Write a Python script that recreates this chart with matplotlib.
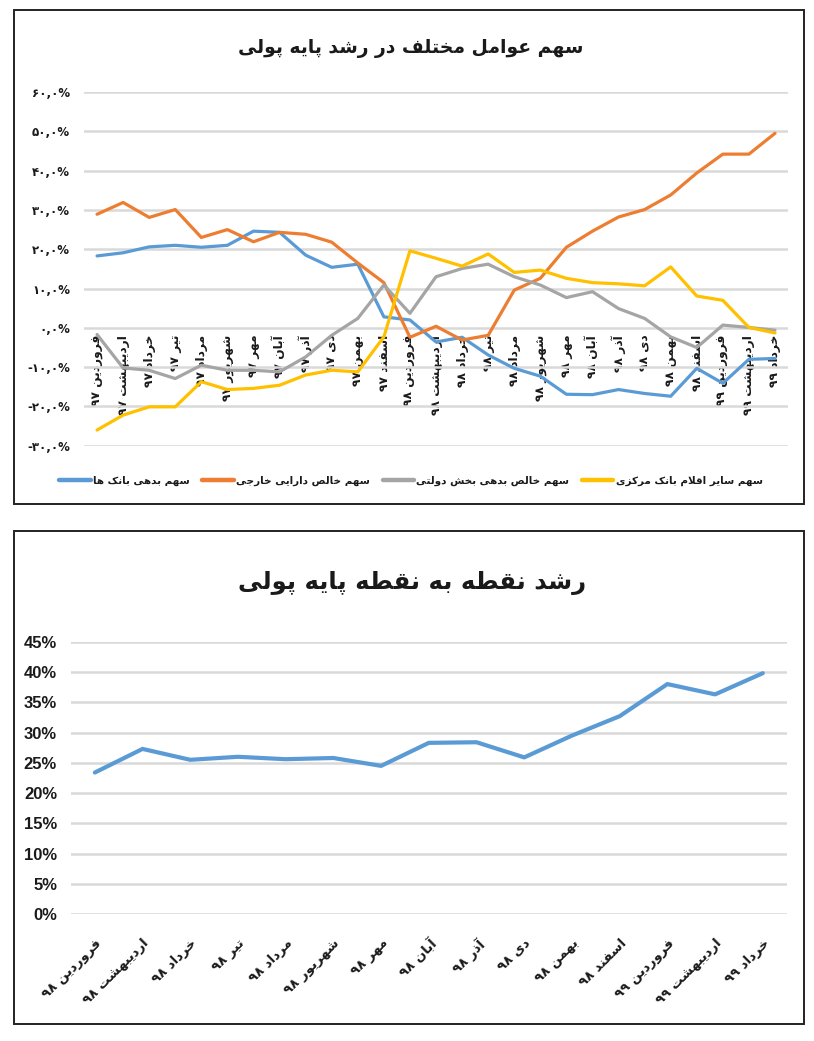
import re
import matplotlib
matplotlib.use("Agg")
import matplotlib.pyplot as plt
from matplotlib.patches import Rectangle

# ---------------- data ----------------
months = ["فروردین", "اردیبهشت", "خرداد", "تیر", "مرداد", "شهریور",
          "مهر", "آبان", "آذر", "دی", "بهمن", "اسفند"]
top_categories = [m + " ۹۷" for m in months] + [m + " ۹۸" for m in months] + \
                 [m + " ۹۹" for m in months[:3]]
bottom_categories = [m + " ۹۸" for m in months] + [m + " ۹۹" for m in months[:3]]

top_title = "سهم عوامل مختلف در رشد پایه پولی"
bottom_title = "رشد نقطه به نقطه پایه پولی"

series_names = ["سهم بدهی بانک ها", "سهم خالص دارایی خارجی",
                "سهم خالص بدهی بخش دولتی", "سهم سایر اقلام بانک مرکزی"]
banks_debt = [18.3, 19.1, 20.6, 21.0, 20.5, 21.0, 24.6, 24.3, 18.5, 15.4, 16.2, 2.8, 2.0,
              -3.6, -2.4, -6.9, -10.3, -12.3, -16.9, -17.0, -15.7, -16.7, -17.4, -10.3,
              -14.1, -8.0, -7.8]
foreign_assets = [28.9, 31.9, 28.1, 30.1, 23.0, 25.0, 21.9, 24.3, 23.8, 21.8, 16.5, 11.5,
                  -2.4, 0.4, -3.1, -1.9, 9.6, 12.6, 20.5, 24.6, 28.2, 30.1, 33.8, 39.4,
                  44.2, 44.2, 49.5]
government_debt = [-1.7, -10.2, -10.8, -12.9, -9.5, -10.8, -10.8, -11.2, -7.4, -1.9, 2.4,
                   10.9, 3.7, 13.0, 15.1, 16.2, 13.0, 10.9, 7.7, 9.2, 4.9, 2.4, -2.3, -5.0,
                   0.7, 0.1, -0.6]
other_items = [-26.0, -22.2, -20.1, -20.1, -13.7, -15.7, -15.4, -14.6, -12.0, -10.8, -11.2,
               -2.3, 19.6, 17.7, 15.7, 18.8, 14.1, 14.7, 12.6, 11.5, 11.2, 10.7, 15.5, 8.1,
               7.0, 0.1, -1.3]
top_yticks = [-30, -20, -10, 0, 10, 20, 30, 40, 50, 60]

growth = [23.4, 27.3, 25.5, 26.0, 25.6, 25.8, 24.5, 28.3, 28.4, 25.9, 29.5, 32.7, 38.0,
          36.3, 39.8]
bottom_yticks = [0, 5, 10, 15, 20, 25, 30, 35, 40, 45]

colors = ["#5B9BD5", "#ED7D31", "#A5A5A5", "#FFC000"]

# ---------------- minimal Arabic/Persian shaping ----------------
JOIN = {}
for ch, base in [("ب", 0xFE8F), ("ت", 0xFE95), ("ث", 0xFE99), ("ج", 0xFE9D), ("ح", 0xFEA1),
                 ("خ", 0xFEA5), ("س", 0xFEB1), ("ش", 0xFEB5), ("ص", 0xFEB9), ("ض", 0xFEBD),
                 ("ط", 0xFEC1), ("ظ", 0xFEC5), ("ع", 0xFEC9), ("غ", 0xFECD), ("ف", 0xFED1),
                 ("ق", 0xFED5), ("ك", 0xFED9), ("ل", 0xFEDD), ("م", 0xFEE1), ("ن", 0xFEE5),
                 ("ه", 0xFEE9), ("ي", 0xFEF1), ("پ", 0xFB56), ("چ", 0xFB7A), ("ک", 0xFB8E),
                 ("گ", 0xFB92), ("ی", 0xFBFC)]:
    JOIN[ch] = (base, True)
for ch, base in [("ا", 0xFE8D), ("آ", 0xFE81), ("د", 0xFEA9), ("ذ", 0xFEAB), ("ر", 0xFEAD),
                 ("ز", 0xFEAF), ("و", 0xFEED), ("ژ", 0xFB8A), ("ة", 0xFE93)]:
    JOIN[ch] = (base, False)


def shape(s):
    out = []
    n = len(s)
    i = 0
    while i < n:
        c = s[i]
        if c not in JOIN:
            out.append(c)
            i += 1
            continue
        prev = s[i - 1] if i > 0 else None
        cp = prev is not None and prev in JOIN and JOIN[prev][1]
        if c == "ل" and i + 1 < n and s[i + 1] in ("ا", "آ"):
            lig = {"ا": (0xFEFB, 0xFEFC), "آ": (0xFEF5, 0xFEF6)}[s[i + 1]]
            out.append(chr(lig[1] if cp else lig[0]))
            i += 2
            continue
        nxt = s[i + 1] if i + 1 < n else None
        cn = JOIN[c][1] and nxt is not None and nxt in JOIN
        base = JOIN[c][0]
        off = 3 if (cp and cn) else 1 if cp else 2 if cn else 0
        out.append(chr(base + off))
        i += 1
    return "".join(out)


def rtl(s):
    rev = shape(s)[::-1]
    return re.sub(r"[0-9\u06F0-\u06F9,٫.]+", lambda m: m.group(0)[::-1], rev)


PDIG = str.maketrans("0123456789", "۰۱۲۳۴۵۶۷۸۹")


def fa_pct(v):
    s = f"{abs(v):.1f}".replace(".", ",").translate(PDIG) + "%"
    return ("-" + s) if v < 0 else s


AR = ["DejaVu Sans"]
LAT = ["Liberation Sans", "DejaVu Sans"]
TXT = "#1a1a1a"
GRID = "#d9d9d9"

fig = plt.figure(figsize=(8.14, 10.41), dpi=100)
fig.patch.set_facecolor("white")

# frames
for (y0, h) in [(0.5159, 0.4745), (0.0163, 0.4736)]:
    fig.patches.append(Rectangle((0.0172, y0), 0.9705, h, transform=fig.transFigure,
                                 fill=False, edgecolor="#222222", linewidth=1.4))

# ---------------- top chart ----------------
ax1 = fig.add_axes([0.1032, 0.5718, 0.8649, 0.3398])
ax1.spines["bottom"].set_position(("data", 0))
x1 = list(range(len(top_categories)))
for vals, col in zip([banks_debt, foreign_assets, government_debt, other_items], colors):
    ax1.plot(x1, vals, color=col, linewidth=2.3, solid_capstyle="round", zorder=3)
ax1.set_xlim(-0.5, len(top_categories) - 0.5)
ax1.set_ylim(-30, 60)
ax1.set_yticks(top_yticks, [fa_pct(v) for v in top_yticks], fontfamily=AR,
               fontweight="bold", fontsize=8.5, color=TXT)
ax1.set_xticks(x1, [rtl(c) for c in top_categories], rotation=90, fontfamily=AR,
               fontweight="bold", fontsize=8.8, color=TXT)
for sp in ax1.spines.values():
    sp.set_visible(False)
ax1.tick_params(axis="both", length=0)
ax1.tick_params(axis="x", pad=5)
ax1.tick_params(axis="y", pad=10)
ax1.grid(axis="y", color=GRID, linewidth=1.8)
ax1.set_axisbelow(True)
ax1.set_facecolor("none")
fig.text(0.504, 1 - 49 / 1041, rtl(top_title), ha="center", va="center",
         fontfamily=AR, fontweight="bold", fontsize=13.5, color=TXT)
leg = ax1.legend([rtl(n) for n in series_names], ncol=4, loc="center",
                 bbox_to_anchor=(0.505, 1 - 481 / 1041), bbox_transform=fig.transFigure,
                 frameon=False, handlelength=3.0, handletextpad=0.25, columnspacing=1.2,
                 prop={"family": AR, "weight": "bold", "size": 7.5})
for h in leg.get_lines():
    h.set_linewidth(3.2)
for t in leg.get_texts():
    t.set_color(TXT)

# ---------------- bottom chart ----------------
ax2 = fig.add_axes([0.0872, 0.1217, 0.8792, 0.2619])
x2 = list(range(len(bottom_categories)))
ax2.plot(x2, growth, color=colors[0], linewidth=3.0, solid_capstyle="round", zorder=3)
ax2.set_xlim(-0.5, len(bottom_categories) - 0.5)
ax2.set_ylim(0, 45)
ax2.set_yticks(bottom_yticks, [f"{v}%" for v in bottom_yticks], fontfamily=LAT,
               fontweight="bold", fontsize=12, color=TXT)
ax2.set_xticks(x2, [rtl(c) for c in bottom_categories], rotation=45, ha="right",
               rotation_mode="anchor", fontfamily=AR, fontweight="bold", fontsize=9.5,
               color=TXT)
for sp in ax2.spines.values():
    sp.set_visible(False)
ax2.tick_params(axis="both", length=0)
ax2.tick_params(axis="x", pad=16)
ax2.tick_params(axis="y", pad=10)
ax2.grid(axis="y", color=GRID, linewidth=1.8)
ax2.set_axisbelow(True)
ax2.set_facecolor("none")
fig.text(0.506, 1 - 583 / 1041, rtl(bottom_title), ha="center", va="center",
         fontfamily=AR, fontweight="bold", fontsize=17.5, color=TXT)

fig.savefig("out.png", dpi=100, facecolor="white")
